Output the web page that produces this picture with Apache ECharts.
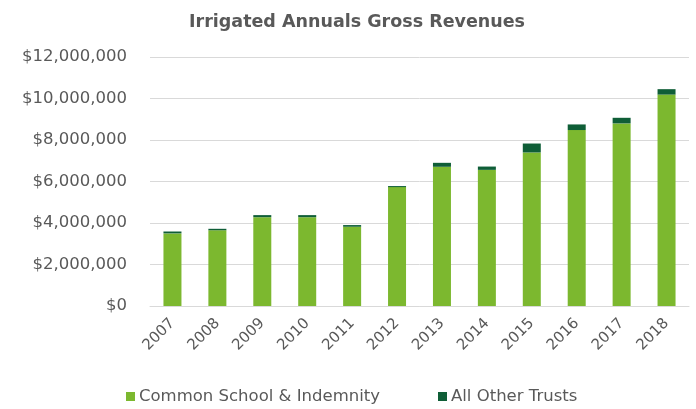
<!DOCTYPE html>
<html><head><meta charset="utf-8">
<script src="https://cdn.jsdelivr.net/npm/echarts@6/dist/echarts.min.js"></script>
<style>html,body{margin:0;padding:0;background:#fff}#c{width:696px;height:409px}</style>
</head><body><div id="c"></div>
<script>
const years = ['2007','2008','2009','2010','2011','2012','2013','2014','2015','2016','2017','2018'];
const commonSchool = [3500000,3650000,4280000,4280000,3820000,5730000,6710000,6560000,7400000,8480000,8800000,10190000];
const otherTrusts = [90000,70000,100000,100000,80000,50000,190000,160000,430000,270000,270000,260000];
const seriesNames = ['Common School & Indemnity','All Other Trusts'];
const colors = ['#7cb82f','#0f5e37'];
const font = 'DejaVu Sans';
const chart = echarts.init(document.getElementById('c'));
chart.setOption({
  animation:false,
  title:{text:'Irrigated Annuals Gross Revenues',left:352,top:8,textAlign:'center',
    textStyle:{fontFamily:font,fontSize:17.5,fontWeight:'bold',color:'#595959'}},
  grid:{left:150,right:7,top:57,bottom:103,containLabel:false},
  legend:{top:383,left:121,itemWidth:9,itemHeight:9,itemGap:58,icon:'rect',
    textStyle:{fontFamily:font,fontSize:16.5,color:'#595959',padding:[0,0,0,-1]},
    data:seriesNames},
  xAxis:{type:'category',data:years,
    axisLine:{lineStyle:{color:'#d9d9d9'}},axisTick:{show:false},
    axisLabel:{rotate:45,fontFamily:font,fontSize:15,color:'#595959',margin:15}},
  yAxis:{type:'value',min:0,max:12000000,interval:2000000,
    axisLine:{show:false},axisTick:{show:false},
    splitLine:{lineStyle:{color:'#d9d9d9'}},
    axisLabel:{fontFamily:font,fontSize:16.5,color:'#595959',margin:23,
      formatter:v=>'$'+v.toLocaleString('en-US')}},
  series:[
    {name:seriesNames[0],type:'bar',stack:'t',data:commonSchool,barWidth:18,itemStyle:{color:colors[0]}},
    {name:seriesNames[1],type:'bar',stack:'t',data:otherTrusts,barWidth:18,itemStyle:{color:colors[1]}}
  ]
});
</script></body></html>
